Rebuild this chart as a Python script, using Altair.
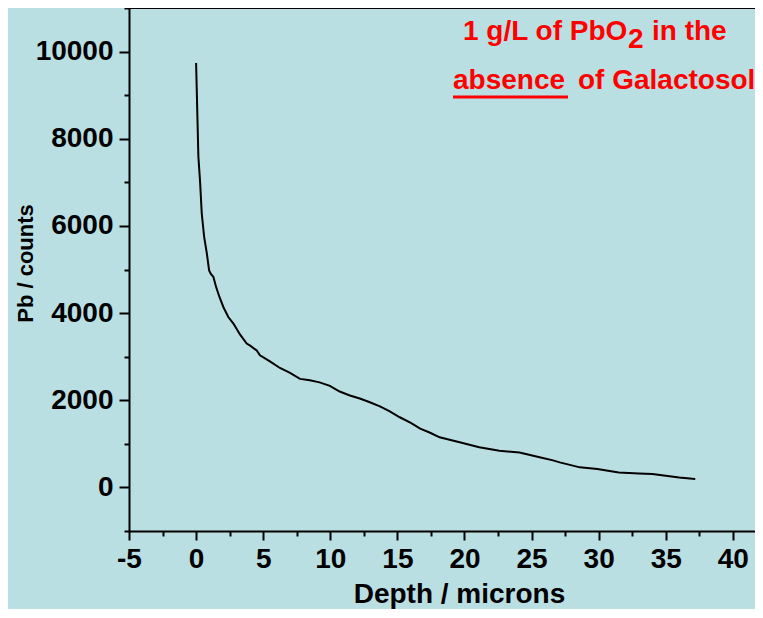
import altair as alt
import pandas as pd

# Data
depth = [0.0, 0.17, 0.3, 0.42, 0.6, 0.8, 0.97, 1.1, 1.29, 1.49, 1.74, 2.03, 2.4, 2.78,
         3.27, 3.77, 4.0, 4.52, 4.76, 5.5, 6.25, 7.0, 7.74, 8.48, 9.2, 9.97, 10.7,
         11.46, 12.2, 12.9, 13.7, 14.4, 15.18, 16.0, 16.7, 17.4, 18.15, 19.64, 21.1,
         22.6, 24.1, 25.6, 26.6, 27.1, 28.6, 29.9, 31.5, 33.0, 34.0, 35.0, 36.0, 37.0,
         37.2]
counts = [9740, 7590, 7000, 6290, 5750, 5370, 4980, 4900, 4830, 4600, 4370, 4140, 3910,
          3760, 3510, 3300, 3260, 3140, 3030, 2890, 2740, 2630, 2490, 2460, 2410, 2330,
          2200, 2110, 2040, 1960, 1860, 1750, 1610, 1480, 1350, 1260, 1150, 1035, 920,
          840, 800, 690, 620, 575, 460, 420, 345, 320, 308, 270, 230, 200, 190]

x_ticks = [-5 + 2.5 * i for i in range(19)]
y_ticks = [-1000 + 1000 * i for i in range(13)]

line1a = "1 g/L of PbO"
line1sub = "2"
line1b = "in the"
line2a = "absence"
line2b = "of Galactosol"

FONT = "Liberation Sans"
W, H = 626, 523

df = pd.DataFrame({"depth": depth, "counts": counts})

line = alt.Chart(df).mark_line(color="black", strokeWidth=2).encode(
    x=alt.X("depth:Q",
            scale=alt.Scale(domain=[-5, 41.65], nice=False, zero=False),
            axis=alt.Axis(
                title="Depth / microns",
                values=x_ticks,
                grid=False,
                labelExpr="datum.value % 5 === 0 ? '' + datum.value : ''",
                tickSize={"condition": {"test": "datum.value % 5 === 0", "value": 9}, "value": 5},
                tickColor="black", tickWidth=2,
                domainColor="black", domainWidth=2,
                labelFont=FONT, labelFontSize=28, labelFontWeight="bold", labelColor="black",
                labelFlush=False, labelOverlap=False, labelPadding=5,
                titleFont=FONT, titleFontSize=28, titleFontWeight="bold", titleColor="black",
                titleX=330, titleY=71, titleBaseline="alphabetic", titleAlign="center",
            )),
    y=alt.Y("counts:Q",
            scale=alt.Scale(domain=[-1000, 11000], nice=False, zero=False),
            axis=alt.Axis(
                title="Pb / counts",
                values=y_ticks,
                grid=False,
                labelExpr="(datum.value % 2000 === 0 && datum.value >= 0 && datum.value <= 10000) ? '' + datum.value : ''",
                tickSize={"condition": {"test": "datum.value % 2000 === 0", "value": 10}, "value": 5},
                tickColor="black", tickWidth=2,
                domainColor="black", domainWidth=2,
                labelFont=FONT, labelFontSize=28, labelFontWeight="bold", labelColor="black",
                labelOverlap=False, labelPadding=6, labelFlush=False,
                titleFont=FONT, titleFontSize=22, titleFontWeight="bold", titleColor="black",
                titleX=-104, titleY=255, titleAngle=-90, titleAlign="center",
                titleBaseline="middle",
            )),
)

top_rule = alt.Chart(pd.DataFrame({"a": [0]})).mark_rule(color="black", strokeWidth=2).encode(
    x=alt.value(0), x2=alt.value(W), y=alt.value(0)
)


def label(txt, px, py, size=28):
    return alt.Chart(pd.DataFrame({"t": [txt]})).mark_text(
        align="left", baseline="alphabetic", font=FONT, fontSize=size,
        fontWeight="bold", color="#ff0000"
    ).encode(text="t:N", x=alt.value(px), y=alt.value(py))


t1 = label(line1a, 334, 32)
t2 = label(line1sub, 499, 40)
t3 = label(line1b, 523, 32)
t4 = label(line2a, 324, 81)
t5 = label(line2b, 449, 81)

underline = alt.Chart(pd.DataFrame({"a": [0]})).mark_rule(color="#ff0000", strokeWidth=3).encode(
    x=alt.value(324), x2=alt.value(439), y=alt.value(89)
)

chart = alt.layer(line, top_rule, t1, t2, t3, t4, t5, underline).properties(
    width=W, height=H,
    autosize=alt.AutoSizeParams(type="none"),
    padding={"left": 121, "top": 0, "right": 0, "bottom": 78},
    background="#badfe2",
).configure_view(stroke=None)

chart.save("out.html", embed_options={"renderer": "svg", "actions": False})
